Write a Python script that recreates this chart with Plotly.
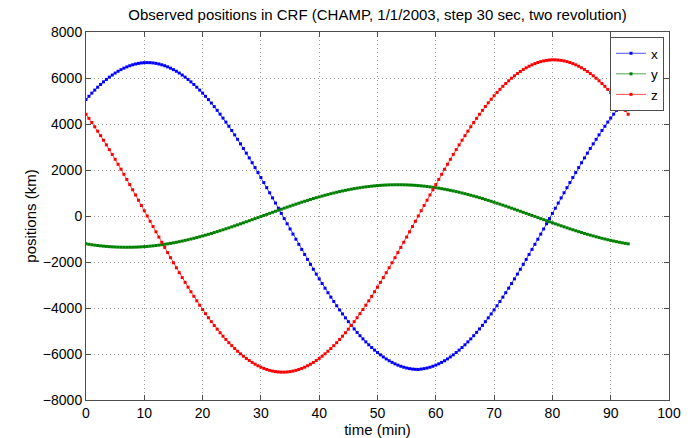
import plotly.graph_objects as go

# time samples: every 30 s (0.5 min) over 0..93 min
time_min = [i * 0.5 for i in range(187)]

pos_x = [5061, 5205, 5343, 5474, 5600, 5719, 5832, 5938, 6037, 6129, 6215, 6293, 6364, 6428, 6484, 6533, 6575, 6609, 6636, 6655, 6666, 6670,
         6666, 6655, 6636, 6609, 6575, 6533, 6484, 6428, 6364, 6293, 6215, 6129, 6037, 5938, 5832, 5719, 5600, 5474, 5343, 5205, 5061, 4911, 4756, 4595, 4429, 4258, 4083, 3902, 3717, 3528, 3335, 3138, 2937, 2733, 2526, 2316, 2104, 1889, 1672, 1453, 1232, 1010, 787, 563, 338, 113,
         -113, -338, -563, -787, -1010, -1232, -1453, -1672, -1889, -2104, -2316, -2526, -2733, -2937, -3138, -3335, -3528, -3717, -3902, -4083, -4258, -4429, -4595, -4756, -4911, -5061, -5205, -5343, -5474, -5600, -5719, -5832, -5938, -6037, -6129, -6215, -6293, -6364, -6428, -6484, -6533, -6575, -6609, -6636, -6655, -6666, -6670,
         -6655, -6636, -6609, -6575, -6533, -6484, -6428, -6364, -6293, -6215, -6129, -6037, -5938, -5832, -5719, -5600, -5474, -5343, -5205, -5061, -4911, -4756, -4595, -4429, -4258, -4083, -3902, -3717, -3528, -3335, -3138, -2937, -2733, -2526, -2316, -2104, -1889, -1672, -1453, -1232, -1010, -787, -563, -338, -113,
         113, 338, 563, 787, 1010, 1232, 1453, 1672, 1889, 2104, 2316, 2526, 2733, 2937, 3138, 3335, 3528, 3717, 3902, 4083, 4258, 4429, 4595, 4756, 4911, 5061, 5205]

pos_y = [-1211, -1231, -1250, -1267, -1283, -1298, -1311, -1322, -1332, -1341, -1348, -1353, -1357, -1359, -1360,
         -1359, -1357, -1353, -1348, -1341, -1332, -1322, -1311, -1298, -1283, -1267, -1250, -1231, -1211, -1189, -1166, -1142, -1116, -1089, -1061, -1032, -1001, -970, -937, -903, -868, -832, -796, -758, -719, -680, -640, -599, -557, -515, -472, -429, -385, -341, -296, -251, -206, -160, -115, -69, -23,
         23, 69, 115, 160, 206, 251, 296, 341, 385, 429, 472, 515, 557, 599, 640, 680, 719, 758, 796, 832, 868, 903, 937, 970, 1001, 1032, 1061, 1089, 1116, 1142, 1166, 1189, 1211, 1231, 1250, 1267, 1283, 1298, 1311, 1322, 1332, 1341, 1348, 1353, 1357, 1359, 1360,
         1359, 1357, 1353, 1348, 1341, 1332, 1322, 1311, 1298, 1283, 1267, 1250, 1231, 1211, 1189, 1166, 1142, 1116, 1089, 1061, 1032, 1001, 970, 937, 903, 868, 832, 796, 758, 719, 680, 640, 599, 557, 515, 472, 429, 385, 341, 296, 251, 206, 160, 115, 69, 23,
         -23, -69, -115, -160, -206, -251, -296, -341, -385, -429, -472, -515, -557, -599, -640, -680, -719, -758, -796, -832, -868, -903, -937, -970, -1001, -1032, -1061, -1089, -1116, -1142, -1166, -1189, -1211]

pos_z = [4423, 4246, 4065, 3879, 3688, 3494, 3295, 3093, 2887, 2678, 2465, 2250, 2033, 1813, 1591, 1367, 1141, 915, 687, 458, 229,
         0,
         -229, -458, -687, -915, -1141, -1367, -1591, -1813, -2033, -2250, -2465, -2678, -2887, -3093, -3295, -3494, -3688, -3879, -4065, -4246, -4423, -4594, -4760, -4921, -5076, -5226, -5369, -5507, -5638, -5762, -5880, -5992, -6096, -6193, -6284, -6367, -6443, -6512, -6573, -6627, -6673, -6712, -6742, -6766, -6781, -6789,
         -6789, -6781, -6766, -6742, -6712, -6673, -6627, -6573, -6512, -6443, -6367, -6284, -6193, -6096, -5992, -5880, -5762, -5638, -5507, -5369, -5226, -5076, -4921, -4760, -4594, -4423, -4246, -4065, -3879, -3688, -3494, -3295, -3093, -2887, -2678, -2465, -2250, -2033, -1813, -1591, -1367, -1141, -915, -687, -458, -229,
         0,
         229, 458, 687, 915, 1141, 1367, 1591, 1813, 2033, 2250, 2465, 2678, 2887, 3093, 3295, 3494, 3688, 3879, 4065, 4246, 4423, 4594, 4760, 4921, 5076, 5226, 5369, 5507, 5638, 5762, 5880, 5992, 6096, 6193, 6284, 6367, 6443, 6512, 6573, 6627, 6673, 6712, 6742, 6766, 6781, 6789,
         6789, 6781, 6766, 6742, 6712, 6673, 6627, 6573, 6512, 6443, 6367, 6284, 6193, 6096, 5992, 5880, 5762, 5638, 5507, 5369, 5226, 5076, 4921, 4760, 4594, 4423]

series_names = ["x", "y", "z"]
series_colors = ["#0000ff", "#008000", "#ff0000"]
x_ticks = [0, 10, 20, 30, 40, 50, 60, 70, 80, 90, 100]
y_ticks = [-8000, -6000, -4000, -2000, 0, 2000, 4000, 6000, 8000]

FONT = "Liberation Sans, Arial, Helvetica, sans-serif"

fig = go.Figure()
for name, vals, col in zip(series_names, [pos_x, pos_y, pos_z], series_colors):
    fig.add_trace(go.Scatter(
        x=time_min, y=vals, name=name, mode="lines+markers",
        line=dict(color=col, width=0.7),
        marker=dict(color=col, size=3, symbol="square", line=dict(width=0)),
    ))

axis_common = dict(
    showline=True, linecolor="#4d4d4d", linewidth=1, mirror="ticks",
    ticks="inside", ticklen=5, tickcolor="#4d4d4d", tickwidth=1,
    showgrid=True, gridcolor="#9a9a9a", griddash="1px,3px", gridwidth=1,
    zeroline=False, automargin=False,
    tickfont=dict(family=FONT, size=14, color="#000000"),
)

# the page body has an 8px margin, so the figure is sized to fit the 693x438 window
fig.update_layout(
    width=685, height=430,
    margin=dict(l=78, r=24, t=24, b=38),
    paper_bgcolor="white", plot_bgcolor="white",
    font=dict(family=FONT, color="#000000"),
    title=dict(text="Observed positions in CRF (CHAMP, 1/1/2003, step 30 sec, two revolution)",
               x=0.5, xref="paper", xanchor="center",
               y=1, yref="container", yanchor="top", pad=dict(t=1),
               font=dict(family=FONT, size=15, color="#000000")),
    xaxis=dict(axis_common, range=[0, 100], tickvals=x_ticks,
               title=dict(text="time (min)", font=dict(family=FONT, size=15), standoff=2)),
    yaxis=dict(axis_common, range=[-8000, 8000], tickvals=y_ticks,
               title=dict(text="positions (km)", font=dict(family=FONT, size=15), standoff=2)),
    legend=dict(x=0.9914, y=0.9864, xanchor="right", yanchor="top",
                bgcolor="white", bordercolor="#4d4d4d", borderwidth=1,
                font=dict(family=FONT, size=13.5), itemwidth=30,
                tracegroupgap=0),
    showlegend=True,
)

fig.write_html("out.html")
